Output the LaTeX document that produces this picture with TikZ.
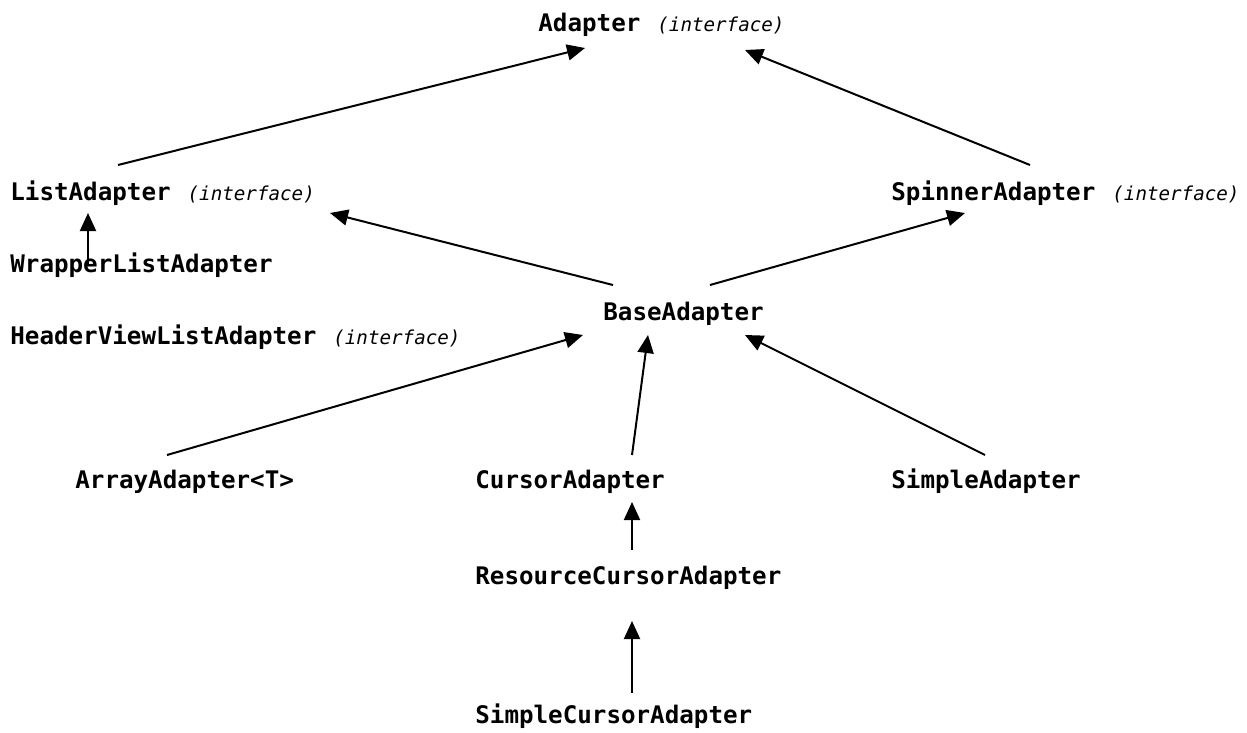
\documentclass[tikz,border=0pt]{standalone}
\usepackage{fontspec}
\setmonofont{DejaVu Sans Mono}
\usetikzlibrary{arrows.meta}
\newcommand{\iface}{{\fontsize{9.6pt}{11pt}\mdseries\itshape (interface)}}
\tikzset{
  cls/.style={anchor=base west, inner sep=0pt, font=\fontsize{12.1pt}{14pt}\ttfamily\bfseries},
  arr/.style={line width=1pt, -{Triangle[length=9pt,width=8pt]}}
}
\begin{document}
\begin{tikzpicture}[x=0.5pt,y=-0.5pt]
\useasboundingbox (0,0) rectangle (1247,733);
% class and interface names
\node[cls] (adapter)  at (538,32)  {Adapter\hspace{8.5pt}\iface};
\node[cls] (list)     at (10,200)  {ListAdapter\hspace{8.5pt}\iface};
\node[cls] (wrapper)  at (10,272)  {WrapperListAdapter};
\node[cls] (header)   at (10,344)  {HeaderViewListAdapter\hspace{8.5pt}\iface};
\node[cls] (spinner)  at (891,200) {SpinnerAdapter\hspace{8.5pt}\iface};
\node[cls] (base)     at (603,320) {BaseAdapter};
\node[cls] (array)    at (75,488)  {ArrayAdapter<T>};
\node[cls] (cursor)   at (475,488) {CursorAdapter};
\node[cls] (simple)   at (891,488) {SimpleAdapter};
\node[cls] (resource) at (475,584) {ResourceCursorAdapter};
\node[cls] (scursor)  at (475,723) {SimpleCursorAdapter};
% inheritance arrows
\draw[arr] ([shift={(108,-35)}]list.base west) -- ([shift={(47,16)}]adapter.base west);
\draw[arr] ([shift={(139,-35)}]spinner.base west) -- ([shift={(207,18)}]adapter.base west);
\draw[arr] ([shift={(10,-35)}]base.base west) -- ([shift={(320,13)}]list.base west);
\draw[arr] ([shift={(107,-35)}]base.base west) -- ([shift={(74,13)}]spinner.base west);
\draw[arr] ([shift={(78,-6)}]wrapper.base west) -- ([shift={(78,13)}]list.base west);
\draw[arr] ([shift={(92,-33)}]array.base west) -- ([shift={(-20,15)}]base.base west);
\draw[arr] ([shift={(157,-33)}]cursor.base west) -- ([shift={(45,15)}]base.base west);
\draw[arr] ([shift={(94,-33)}]simple.base west) -- ([shift={(142,15)}]base.base west);
\draw[arr] ([shift={(157,-34)}]resource.base west) -- ([shift={(157,14)}]cursor.base west);
\draw[arr] ([shift={(157,-30)}]scursor.base west) -- ([shift={(157,37)}]resource.base west);
\end{tikzpicture}
\end{document}
